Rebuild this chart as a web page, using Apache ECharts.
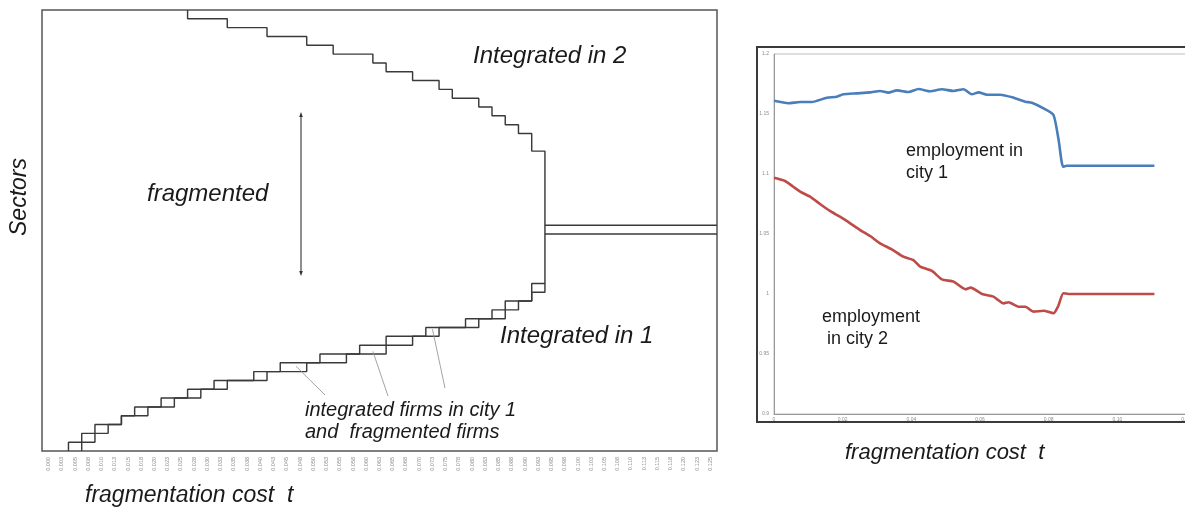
<!DOCTYPE html>
<html><head><meta charset="utf-8">
<script src="https://cdn.jsdelivr.net/npm/echarts@6/dist/echarts.min.js"></script>
<style>html,body{margin:0;padding:0;background:#fff}#c{width:1185px;height:514px}</style>
</head><body><div id="c"></div>
<script>
// ---------- left panel: sectors vs fragmentation cost ----------
const tickLabels = ['0.000','0.003','0.005','0.008','0.010','0.013','0.015','0.018','0.020','0.023','0.025','0.028','0.030','0.033','0.035','0.038','0.040','0.043','0.045','0.048','0.050','0.053','0.055','0.058','0.060','0.063','0.065','0.068','0.070','0.073','0.075','0.078','0.080','0.083','0.085','0.088','0.090','0.093','0.095','0.098','0.100','0.103','0.105','0.108','0.110','0.113','0.115','0.118','0.120','0.123','0.125'];
const sectorCount = 50;
// per sector (row 0 = bottom): tick boundary where the sector stops being purely fragmented
const fragEndRow = [2,3,4,6,7,9,11,13,16,18,21,24,26,29,32,34,35,37,37,
                    38,38,38,38,38,38,38,38,38,38,38,38,38,38,38,
                    37,37,36,35,34,33,31,30,28,26,25,22,20,17,14,11];
// rows 0..18: tick boundary where the sector is fully integrated in city 1
const int1FullRow = [3,4,5,6,8,10,12,14,17,20,23,26,28,30,33,35,36,37,38];
// split between integrated-in-1 and integrated-in-2 sectors (double line)
const splitLevels = [24.6, 25.6];

// ---------- right panel: employment ----------
const city1T = [0,0.0042,0.0076,0.011,0.0154,0.0183,0.0202,0.0241,0.028,0.0309,0.0333,0.0358,0.0392,0.0421,0.0455,0.0489,0.0523,0.0552,0.0576,0.0596,0.062,0.0659,0.0698,0.0732,0.0751,0.0785,0.0814,0.0829,0.0842,0.0853,0.095,0.1108];
const city1Emp = [1.161,1.159,1.160,1.160,1.1636,1.1644,1.1664,1.1672,1.168,1.1692,1.1678,1.1697,1.1683,1.1708,1.1689,1.1706,1.1692,1.1706,1.1664,1.168,1.1661,1.1661,1.1636,1.1603,1.1594,1.1547,1.1492,1.1283,1.1061,1.1069,1.1069,1.1069];
const city2T = [0,0.0032,0.0056,0.0076,0.0105,0.0134,0.0163,0.0192,0.0222,0.0251,0.028,0.0309,0.0343,0.0377,0.0406,0.0426,0.046,0.0489,0.0523,0.0557,0.0573,0.0606,0.0639,0.0669,0.0683,0.0712,0.0732,0.0756,0.0785,0.0814,0.0827,0.0843,0.0858,0.095,0.1108];
const city2Emp = [1.0969,1.0942,1.0894,1.0853,1.0811,1.075,1.0692,1.0644,1.0589,1.0533,1.0483,1.0422,1.0372,1.0311,1.0283,1.0228,1.0192,1.0122,1.0103,1.004,1.0053,1.000,0.9978,0.9922,0.9931,0.9894,0.9894,0.9853,0.9861,0.9839,0.9894,1.0006,1.000,1.000,1.000];
const rightXTicks = {min:0, max:0.12, interval:0.02};
const rightYTicks = {min:0.9, max:1.2, interval:0.05};

// ---------- build paths ----------
function stairPath(thr) {
  const pts = [];
  thr.forEach((x, r) => { pts.push([x, r]); pts.push([x, r + 1]); });
  return pts;
}
const boundaryPath = stairPath(fragEndRow);
const int1Path = stairPath(int1FullRow);
const xMax = tickLabels.length;
const splitX = fragEndRow[Math.floor(splitLevels[0])];

const FONT = "'Liberation Sans', Arial, sans-serif";
const stepStyle = {color:'#3a3a3a', width:1.45};

const chart = echarts.init(document.getElementById('c'), null, {renderer:'canvas'});
const option = {
  animation: false,
  backgroundColor: '#fff',
  grid: [
    {left:42, top:10, width:675, height:441, show:true, borderColor:'#555', borderWidth:1.5, backgroundColor:'transparent', outerBoundsMode:'none', containLabel:false},
    {left:774, top:54, width:412, height:360, show:true, borderColor:'#bdbdbd', borderWidth:1, backgroundColor:'transparent', outerBoundsMode:'none', containLabel:false}
  ],
  xAxis: [
    {type:'category', gridIndex:0, data:tickLabels, boundaryGap:true,
     axisLine:{show:false}, axisTick:{show:false}, splitLine:{show:false},
     axisLabel:{interval:0, rotate:90, fontSize:5.5, color:'#8c8c8c', margin:6, fontFamily:FONT}},
    {type:'value', gridIndex:0, min:0, max:xMax, show:false},
    {type:'value', gridIndex:1, min:rightXTicks.min, max:rightXTicks.max, interval:rightXTicks.interval,
     axisLine:{show:true, lineStyle:{color:'#9a9a9a'}}, axisTick:{show:false}, splitLine:{show:false},
     axisLabel:{fontSize:5, color:'#8c8c8c', margin:3, fontFamily:FONT,
       formatter: v => v === 0 ? '0' : v.toFixed(2)}}
  ],
  yAxis: [
    {type:'value', gridIndex:0, min:0, max:sectorCount, show:false},
    {type:'value', gridIndex:1, min:rightYTicks.min, max:rightYTicks.max, interval:rightYTicks.interval,
     axisLine:{show:true, lineStyle:{color:'#9a9a9a'}}, axisTick:{show:false}, splitLine:{show:false},
     axisLabel:{fontSize:5, color:'#8c8c8c', margin:5, fontFamily:FONT}}
  ],
  series: [
    {type:'line', xAxisIndex:1, yAxisIndex:0, data:boundaryPath, symbol:'none', lineStyle:stepStyle, silent:true},
    {type:'line', xAxisIndex:1, yAxisIndex:0, data:int1Path, symbol:'none', lineStyle:stepStyle, silent:true},
    {type:'line', xAxisIndex:1, yAxisIndex:0, data:[[splitX, splitLevels[0]],[xMax, splitLevels[0]]], symbol:'none', lineStyle:stepStyle, silent:true},
    {type:'line', xAxisIndex:1, yAxisIndex:0, data:[[splitX, splitLevels[1]],[xMax, splitLevels[1]]], symbol:'none', lineStyle:stepStyle, silent:true},
    {type:'line', name:'employment in city 1', xAxisIndex:2, yAxisIndex:1, data:city1T.map((t,i)=>[t, city1Emp[i]]),
     symbol:'none', smooth:0.2, lineStyle:{color:'#4a7ebb', width:2.6}},
    {type:'line', name:'employment in city 2', xAxisIndex:2, yAxisIndex:1, data:city2T.map((t,i)=>[t, city2Emp[i]]),
     symbol:'none', smooth:0.2, lineStyle:{color:'#be4b48', width:2.6}}
  ]
};
chart.setOption(option);

// ---------- annotations ----------
const italic = (txt, x, y, size, extra) => Object.assign({
  type:'text', x, y, style:{text:txt, font:`italic ${size}px ${FONT}`, fill:'#1a1a1a', textAlign:'left', textVerticalAlign:'middle'}}, extra || {});
const plain = (txt, x, y, size) => ({
  type:'text', x, y, style:{text:txt, font:`${size}px ${FONT}`, fill:'#1a1a1a', textAlign:'left', textVerticalAlign:'middle'}});

const leaderTips = [[19.2, 9.6],[25.0, 11.3],[29.5, 13.8]];
const leaderEnds = [[325,395],[388,396],[445,388]];
const leaders = leaderTips.map((tp, i) => {
  const p = chart.convertToPixel({xAxisIndex:1, yAxisIndex:0}, tp);
  return {type:'line', shape:{x1:p[0], y1:p[1], x2:leaderEnds[i][0], y2:leaderEnds[i][1]},
          style:{stroke:'#9a9a9a', lineWidth:0.9}, z:10};
});

const graphic = [
  {type:'rect', shape:{x:757, y:47, width:460, height:375}, style:{fill:'none', stroke:'#3a3a3a', lineWidth:2}, z:1},
  italic('Integrated in 2', 473, 56, 24),
  italic('Integrated in 1', 500, 336, 24),
  italic('fragmented', 147, 194, 24),
  {type:'text', x:20, y:197, rotation:Math.PI/2,
   style:{text:'Sectors', font:`italic 23px ${FONT}`, fill:'#1a1a1a', textAlign:'center', textVerticalAlign:'middle'}},
  italic('fragmentation cost  t', 85, 496, 23),
  italic('fragmentation cost  t', 845, 453, 22),
  italic('integrated firms in city 1', 305, 410, 20),
  italic('and  fragmented firms', 305, 432, 20),
  plain('employment in', 906, 151, 18),
  plain('city 1', 906, 173, 18),
  plain('employment', 822, 317, 18),
  plain(' in city 2', 822, 339, 18),
  {type:'line', shape:{x1:301, y1:115, x2:301, y2:273}, style:{stroke:'#333', lineWidth:1.1}},
  {type:'polygon', shape:{points:[[301,112],[299.2,117],[302.8,117]]}, style:{fill:'#333'}},
  {type:'polygon', shape:{points:[[301,276],[299.2,271],[302.8,271]]}, style:{fill:'#333'}}
].concat(leaders);
chart.setOption({graphic});
</script>
</body></html>
